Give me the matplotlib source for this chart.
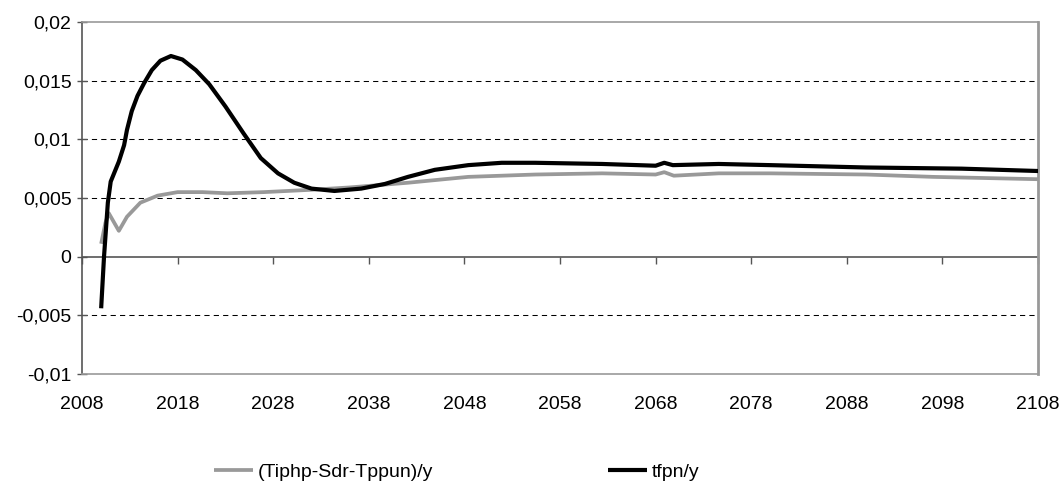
import matplotlib
matplotlib.use("Agg")
import matplotlib.pyplot as plt

plt.rcParams['font.family'] = ['Liberation Sans', 'DejaVu Sans']

# values
years_tfpn = [2010, 2010.3, 2010.7, 2011.0, 2011.5, 2011.85, 2012.4, 2012.7, 2013.2,
              2013.8, 2014.5, 2015.3, 2016.2, 2017.3, 2018.5, 2019.9, 2021.3, 2023.0,
              2024.9, 2026.7, 2028.5, 2030.2, 2032.0, 2034.4, 2037.2, 2039.7, 2042.1,
              2044.9, 2048.4, 2051.9, 2055.4, 2062.4, 2068.0, 2068.9, 2069.8, 2074.6,
              2080, 2090, 2100, 2108]
tfpn = [-0.0044, 0.0000, 0.0046, 0.0064, 0.0074, 0.0081, 0.0095, 0.0108, 0.0124,
        0.0137, 0.0148, 0.0159, 0.0167, 0.0171, 0.0168, 0.0159, 0.0147, 0.0128,
        0.0105, 0.0084, 0.0071, 0.0063, 0.0058, 0.0056, 0.0058, 0.0062, 0.0068,
        0.0074, 0.0078, 0.0080, 0.0080, 0.0079, 0.00775, 0.0080, 0.0078, 0.0079,
        0.0078, 0.0076, 0.0075, 0.0073]

years_tip = [2010, 2010.45, 2010.8, 2011.85, 2012.7, 2014.1, 2015.9, 2018.0, 2020.6,
             2023.2, 2027, 2032.0, 2036, 2042.1, 2048.4, 2055.4, 2062.4, 2068.0,
             2068.9, 2069.9, 2074.6, 2080, 2090, 2097, 2108]
tip = [0.0011, 0.0029, 0.0037, 0.0022, 0.0034, 0.0046, 0.0052, 0.0055, 0.0055,
       0.0054, 0.0055, 0.0057, 0.0059, 0.0063, 0.0068, 0.0070, 0.0071, 0.0070,
       0.0072, 0.0069, 0.0071, 0.0071, 0.0070, 0.0068, 0.0066]

xticks = list(range(2008, 2109, 10))
yticks = [-0.01, -0.005, 0, 0.005, 0.01, 0.015, 0.02]
ylabels = ["-0,01", "-0,005", "0", "0,005", "0,01", "0,015", "0,02"]

fig = plt.figure(figsize=(10.64, 4.93), dpi=100)
ax = fig.add_axes([0.0771, 0.2414, 0.8985, 0.714])

for y in [-0.005, 0.005, 0.01, 0.015]:
    ax.axhline(y, color="black", lw=0.75, ls=(0, (5, 4)), zorder=1)
ax.axhline(0, color="#555555", lw=1.2, zorder=1)

ax.plot(years_tip, tip, color="#999999", lw=2.7, label="(Tiphp-Sdr-Tppun)/y",
        solid_capstyle="butt", solid_joinstyle="round", zorder=3)
ax.plot(years_tfpn, tfpn, color="black", lw=3.0, label="tfpn/y",
        solid_capstyle="butt", solid_joinstyle="round", zorder=4)

ax.set_xlim(2008, 2108)
ax.set_ylim(-0.01, 0.02)
ax.set_xticks(xticks)
ax.set_xticklabels([str(x) for x in xticks])
ax.set_yticks(yticks)
ax.set_yticklabels(ylabels)
ax.tick_params(axis="x", length=0, pad=16, labelsize=14)
ax.tick_params(axis="y", direction="inout", length=7, width=1, color="#555555",
               pad=4, labelsize=14)

for s in ["top", "bottom"]:
    ax.spines[s].set_color("#999999")
    ax.spines[s].set_linewidth(1.2)
ax.spines["right"].set_color("#999999")
ax.spines["right"].set_linewidth(2)
ax.spines["left"].set_color("#555555")
ax.spines["left"].set_linewidth(1.2)

# tick marks on the zero line
sec = ax.secondary_xaxis(1 / 3)
sec.set_xticks(xticks)
sec.tick_params(axis="x", length=5, width=1, color="#555555", labelbottom=False,
                labeltop=False)
for s in sec.spines.values():
    s.set_visible(False)

fig.legend(loc="center left", bbox_to_anchor=(0.185, 0.043), ncol=2, frameon=False,
           fontsize=14, handlelength=2.0, handletextpad=0.25, columnspacing=9.0)

fig.savefig("out.png", dpi=100)
